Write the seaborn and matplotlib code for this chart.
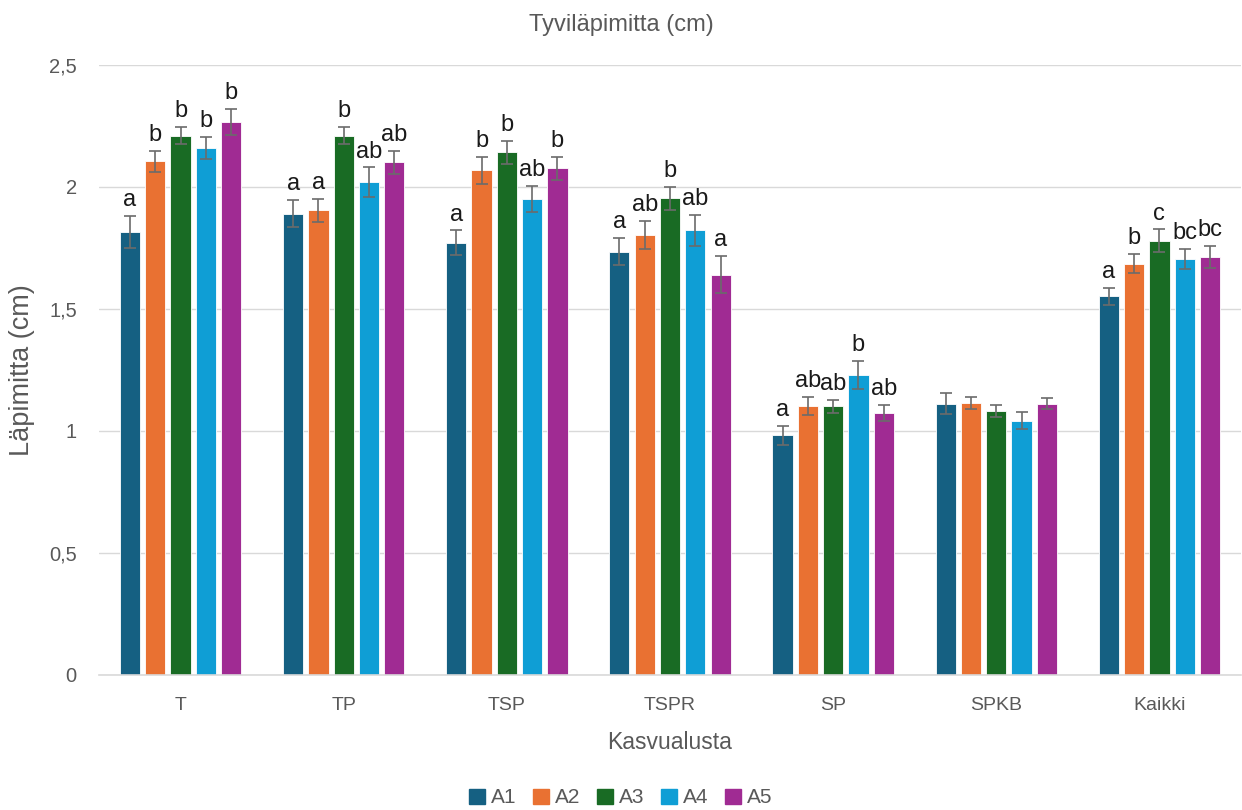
import numpy as np
import pandas as pd
import matplotlib
matplotlib.use("Agg")
import matplotlib.pyplot as plt
import seaborn as sns

# Growing media and treatments
categories = ["T", "TP", "TSP", "TSPR", "SP", "SPKB", "Kaikki"]
treatments = ["A1", "A2", "A3", "A4", "A5"]

# Mean stem base diameter (cm) per treatment, in category order
a1 = [1.817, 1.891, 1.772, 1.735, 0.982, 1.112, 1.552]
a2 = [2.105, 1.904, 2.068, 1.803, 1.101, 1.116, 1.686]
a3 = [2.211, 2.211, 2.142, 1.954, 1.101, 1.083, 1.780]
a4 = [2.159, 2.019, 1.950, 1.822, 1.230, 1.042, 1.704]
a5 = [2.266, 2.101, 2.077, 1.641, 1.075, 1.112, 1.712]

# Standard errors
e1 = [0.066, 0.056, 0.050, 0.055, 0.038, 0.044, 0.036]
e2 = [0.044, 0.048, 0.054, 0.059, 0.037, 0.025, 0.039]
e3 = [0.034, 0.034, 0.048, 0.047, 0.027, 0.025, 0.046]
e4 = [0.046, 0.061, 0.054, 0.065, 0.057, 0.034, 0.041]
e5 = [0.053, 0.048, 0.047, 0.075, 0.032, 0.023, 0.045]

# Significance letters
l1 = ["a", "a", "a", "a", "a", "", "a"]
l2 = ["b", "a", "b", "ab", "ab", "", "b"]
l3 = ["b", "b", "b", "b", "ab", "", "c"]
l4 = ["b", "ab", "ab", "ab", "b", "", "bc"]
l5 = ["b", "ab", "b", "a", "ab", "", "bc"]

y_ticks = [0, 0.5, 1, 1.5, 2, 2.5]
y_tick_labels = ["0", "0,5", "1", "1,5", "2", "2,5"]

colors = ["#156082", "#E97132", "#196B24", "#0F9ED5", "#A02B93"]

means = [a1, a2, a3, a4, a5]
errs = [e1, e2, e3, e4, e5]
letters = [l1, l2, l3, l4, l5]

rows = []
for t, m, e, l in zip(treatments, means, errs, letters):
    for c, mv, ev, lv in zip(categories, m, e, l):
        rows.append({"Kasvualusta": c, "Käsittely": t, "mean": mv, "se": ev, "letter": lv})
df = pd.DataFrame(rows)

sns.set_theme(style="white")
plt.rcParams["font.family"] = ["Liberation Sans", "DejaVu Sans"]

fig = plt.figure(figsize=(12.42, 8.10), dpi=100)
ax = fig.add_axes([99 / 1242, 1 - 675 / 810, 1142 / 1242, 610 / 810])

sns.barplot(data=df, x="Kasvualusta", y="mean", hue="Käsittely",
            order=categories, hue_order=treatments, palette=colors,
            width=0.776, gap=0.2, errorbar=None, ax=ax,
            edgecolor="#ffffff", linewidth=0.6, saturation=1)

# Error bars and letters placed on each bar
grey = "#595959"
for ti, t in enumerate(treatments):
    cont = ax.containers[ti]
    for ci, bar in enumerate(cont):
        x = bar.get_x() + bar.get_width() / 2
        m = means[ti][ci]
        e = errs[ti][ci]
        ax.errorbar(x, m, yerr=e, fmt="none", ecolor="#6b6b6b",
                    elinewidth=1.2, capsize=4, capthick=1.2, zorder=4)
        lab = letters[ti][ci]
        if lab:
            ax.text(x, m + e + 0.02, lab, ha="center", va="bottom",
                    fontsize=17, color="#1a1a1a")

ax.set_ylim(0, 2.5)
ax.set_xlim(-0.5, len(categories) - 0.5)
ax.set_yticks(y_ticks)
ax.set_yticklabels(y_tick_labels)
ax.yaxis.grid(True, color="#d9d9d9", linewidth=1)
ax.set_axisbelow(True)
for s in ["left", "right", "top"]:
    ax.spines[s].set_visible(False)
ax.spines["bottom"].set_color("#d9d9d9")
ax.spines["bottom"].set_linewidth(1.2)
ax.tick_params(axis="x", length=0, labelsize=14, colors=grey, pad=16)
ax.tick_params(axis="y", length=0, labelsize=14.5, colors=grey, pad=16)

ax.set_xlabel("Kasvualusta", fontsize=16.5, color=grey)
ax.xaxis.set_label_coords(0.5, -56 / 610)
ax.set_ylabel("Läpimitta (cm)", fontsize=19.5, color=grey)
ax.yaxis.set_label_coords(-64 / 1142, 0.5)
fig.suptitle("Tyviläpimitta (cm)", fontsize=17, color=grey, y=0.983)

ax.legend_.remove()
handles = [plt.Rectangle((0, 0), 1, 1, color=c) for c in colors]
fig.legend(handles, treatments, loc="lower center", ncol=5, frameon=False,
           bbox_to_anchor=(0.5, -0.02), fontsize=15, handlelength=0.75,
           handleheight=0.75, handletextpad=0.3, columnspacing=0.8,
           labelcolor=grey)

fig.savefig("out.png", dpi=100)
